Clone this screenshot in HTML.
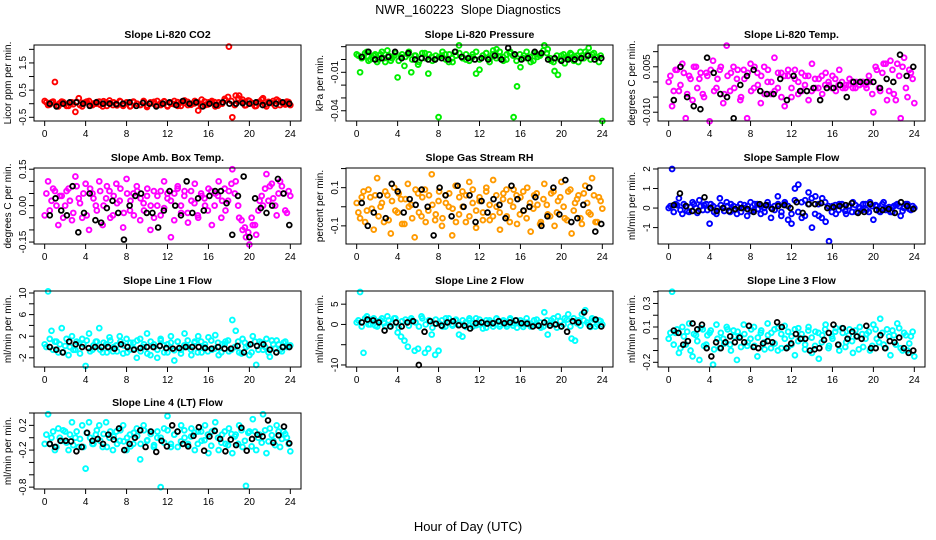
<!DOCTYPE html>
<html><head><meta charset="utf-8"><style>
html,body{margin:0;padding:0;background:#fff;}
svg{display:block;font-family:"Liberation Sans",sans-serif;}
</style></head><body>
<svg id="chart" width="936" height="540" viewBox="0 0 936 540">
<text x="468" y="14" text-anchor="middle" font-size="12.5">NWR_160223&#160; Slope Diagnostics</text>
<text x="468" y="531" text-anchor="middle" font-size="13">Hour of Day (UTC)</text>
</svg>
<script>
const xTicks=[0,4,8,12,16,20,24];
const titles=["Slope Li-820 CO2","Slope Li-820 Pressure","Slope Li-820 Temp.","Slope Amb. Box Temp.","Slope Gas Stream RH","Slope Sample Flow","Slope Line 1 Flow","Slope Line 2 Flow","Slope Line 3 Flow","Slope Line 4 (LT) Flow"];
const yLabels=["Licor ppm per min.","kPa per min.","degrees C per min.","degrees C per min.","percent per min.","ml/min per min.","ml/min per min.","ml/min per min.","ml/min per min.","ml/min per min."];
const colors=["#ff0000","#00ee00","#ff00ff","#ff00ff","#ff9a00","#0000ff","#00ffff","#00ffff","#00ffff","#00ffff"];
const yDomains=[[-0.636,2.16],[-0.048,0.0113],[-0.0129,0.0122],[-0.158,0.155],[-0.195,0.203],[-1.84,2.05],[-3.7,10.37],[-10.5,8.25],[-0.24,0.406],[-0.83,0.4]];
const yTicks=[[-0.5,0,0.5,1,1.5,2],[-0.04,-0.03,-0.02,-0.01,0,0.01],[-0.01,-0.005,0,0.005,0.01],[-0.15,-0.1,-0.05,0,0.05,0.1,0.15],[-0.1,0,0.1,0.2],[-1,0,1,2],[-2,0,2,4,6,8,10],[-10,-5,0,5],[-0.2,-0.1,0,0.1,0.2,0.3,0.4],[-0.8,-0.6,-0.4,-0.2,0,0.2,0.4]];
const yTickLabels=[["-0.5","","0.5","","1.5",""],["-0.04","","","-0.01","",""],["-0.010","","","0.005",""],["-0.15","","","0.00","","","0.15"],["-0.1","","0.1",""],["-1","0","1","2"],["-2","","2","","6","","10"],["-10","","0","5"],["-0.2","","","0.1","","0.3",""],["-0.8","","","-0.2","","0.2",""]];

const c1=[0.1,-0.05,0.05,0.8,-0.1,0.08,0,-0.08,0.05,-0.3,0.2,-0.1,0.05,0.1,-0.05,0,0.08,-0.1,0.05,0.12,-0.05,0,0.1,-0.08,0.05,-0.1,0.08,0,-0.05,0.1,-0.12,0.05,0,0.1,-0.05,0.08,-0.1,0,0.1,-0.08,0.05,0.12,-0.05,0,0.1,-0.25,0.15,-0.05,0.05,0.1,-0.1,0.05,0,0.12,2.1,-0.5,0.3,0.3,0.15,-0.05,0.1,0,-0.08,0.05,0.2,-0.1,0.05,0.1,0.15,-0.05,0,0.08,-0.05];
const d1=[0.05,-0.03,0.08,-0.06,0.02,0.06,-0.08,0.04,-0.02,0.07,-0.05,0.03,0.08,-0.07,0.01,0.06,-0.04,0.09,-0.08,0.02,0.05,-0.06,0.08,-0.02,0.04,-0.09,0.06,0.0,-0.04,0.08,-0.06,0.03,0.07,-0.05,0.02,0.09,-0.07,0.04,-0.02,0.06,-0.08,0.03,0.07,-0.04,0.01,0.05,-0.1,0.08,-0.03,0.04,0.06,-0.07,0.02,0.18,0.25,0.1,-0.05,0.2,0.08,-0.06,0.12,0.03,-0.09,0.06,0.15,-0.04,0.07,0.02,-0.08,0.1,0.04,-0.03,0.06];
const k1=[0,-0.1,0,0.05,0.05,0,-0.08,0.05,0,0,-0.02,0,0.05,-0.08,0.03,0,-0.1,0,0.05,-0.05,0.1,0,0.05,-0.1,0,-0.05,0.05,0,0,0.02,0,0.05,-0.05,0.03,0,0.05,0];
const c2=[0.004,-0.010,0.002,0.006,0.000,0.003,-0.002,0.004,0.001,0.007,-0.001,0.003,-0.014,0.002,-0.005,0.004,-0.010,0.003,-0.004,0.001,0.005,-0.011,0.002,0.000,-0.045,0.003,0.004,-0.002,0.001,0.006,0.011,0.002,0.000,-0.001,0.004,-0.011,-0.008,0.003,0.005,0.001,0.007,0.008,0.002,-0.001,0.004,0.006,-0.045,-0.021,-0.006,0.003,0.001,-0.002,0.005,0.002,0.004,0.011,0.008,-0.001,-0.009,-0.012,0.003,-0.003,0.001,0.004,0.002,-0.002,0.003,0.006,0.009,0.004,0.002,-0.002,-0.048];
const d2=[0.003,0.001,0.005,-0.001,0.002,0.004,0.000,0.006,-0.002,0.003,0.001,0.005,-0.001,0.004,0.002,0.006,0.000,0.003,-0.002,0.005,0.001,0.004,-0.001,0.003,0.002,0.006,0.000,0.004,-0.002,0.003,0.005,0.001,0.004,-0.001,0.002,0.006,0.000,0.003,0.005,-0.002,0.004,0.001,0.006,0.002,0.000,0.005,0.003,-0.001,0.004,0.001,0.006,0.002,-0.001,0.004,0.003,0.007,0.005,0.001,-0.002,0.003,0.000,0.004,0.002,0.005,-0.001,0.003,0.006,0.001,0.004,0.000,0.005,0.002,0.003];
const k2=[0.002,0.006,0.000,0.001,0.002,0.006,0.001,0.005,0.000,0.001,0.000,0.000,0.001,0.000,0.006,0.002,0.001,0.000,0.001,0.000,0.003,0.000,0.009,0.004,0.000,0.001,0.006,0.005,0.000,0.001,-0.001,0.000,0.000,0.001,0.003,0.000,0.001];
const c3=[0.000,-0.008,0.004,-0.003,0.006,-0.012,0.002,-0.006,0.005,0.001,-0.004,0.003,-0.013,0.007,-0.002,0.004,-0.007,0.012,-0.003,0.005,0.001,-0.006,0.004,-0.012,0.006,-0.002,0.003,-0.007,0.005,0.000,-0.004,0.008,-0.002,0.003,-0.008,0.002,-0.005,0.004,0.000,-0.003,0.002,-0.006,0.006,-0.002,0.001,-0.004,0.003,-0.001,0.002,-0.003,0.004,-0.002,-0.001,0.001,-0.002,0.000,-0.001,0.000,-0.002,0.000,-0.010,0.004,-0.003,0.006,-0.006,0.007,-0.004,0.006,-0.012,0.008,-0.005,0.003,-0.007];
const d3=[0.002,-0.003,0.004,-0.001,0.003,-0.004,0.001,0.005,-0.002,0.003,-0.005,0.002,0.004,-0.003,0.001,0.005,-0.004,0.002,0.003,-0.002,0.004,-0.005,0.001,0.003,-0.003,0.005,-0.001,0.002,-0.004,0.004,0.000,-0.003,0.003,-0.005,0.002,0.004,-0.002,0.001,-0.004,0.003,-0.001,0.002,-0.003,0.001,-0.002,0.002,-0.001,0.000,-0.002,0.001,-0.001,0.000,-0.002,-0.001,0.000,-0.002,-0.001,0.000,-0.001,0.002,-0.004,0.005,-0.002,0.003,0.006,-0.003,0.004,-0.006,0.002,0.005,-0.002,0.004,0.001];
const k3=[-0.006,0.005,-0.005,-0.008,-0.009,0.008,0.003,-0.004,-0.005,-0.012,-0.001,0.002,0.004,-0.003,-0.004,-0.004,0.001,-0.006,0.002,-0.003,-0.003,-0.002,-0.006,-0.002,-0.002,-0.001,-0.005,0.000,0.000,0.000,0.000,-0.002,0.001,0.000,0.009,0.002,0.005];
const c4=[-0.04,0.1,0.02,0.06,-0.08,0.04,0.0,0.07,-0.06,0.12,0.03,-0.05,0.09,-0.1,0.05,0.0,0.1,-0.08,0.03,0.06,-0.04,0.09,0.02,-0.09,0.11,-0.02,0.05,0.08,-0.06,0.01,0.04,-0.1,0.06,0.0,-0.04,0.1,0.03,-0.13,0.05,0.08,-0.03,0.06,-0.07,0.02,0.09,-0.05,0.04,0.0,0.07,-0.08,0.05,0.1,0.02,-0.02,0.06,0.15,0.1,-0.05,-0.1,-0.13,-0.16,-0.08,-0.12,0.02,0.0,0.13,0.08,0.03,-0.04,0.1,0.05,-0.03,0.04];
const d4=[0.05,-0.02,0.07,0.0,0.04,-0.05,0.06,0.02,-0.03,0.08,0.01,0.05,-0.04,0.07,0.03,-0.02,0.06,0.0,0.08,-0.05,0.04,0.01,0.07,-0.03,0.05,0.02,-0.04,0.06,0.03,-0.02,0.07,0.0,-0.05,0.04,0.06,-0.01,0.05,0.02,-0.06,0.07,0.0,0.04,-0.03,0.06,0.01,-0.04,0.05,0.03,-0.02,0.06,0.0,0.04,-0.05,0.07,0.02,0.09,0.05,0.0,-0.06,-0.09,-0.11,-0.05,-0.08,-0.02,0.04,0.07,0.02,0.09,0.0,0.05,0.08,-0.02,0.06];
const k4=[-0.04,0.03,-0.02,-0.04,0.08,-0.11,-0.03,0.05,-0.06,-0.07,-0.01,0.02,-0.03,-0.14,0.0,0.04,0.05,-0.03,-0.03,-0.09,-0.02,0.06,0.0,-0.04,0.1,-0.03,0.03,-0.02,0.04,0.06,0.06,0.01,-0.12,0.04,0.12,-0.13,0.03,-0.01,-0.03,0.0,0.11,0.05,-0.08];
const c5=[0.02,-0.06,0.08,-0.02,0.05,-0.12,0.15,0.0,-0.08,0.06,-0.14,0.1,-0.03,0.04,-0.09,0.12,0.01,-0.16,0.07,-0.05,0.09,-0.02,0.17,-0.07,0.03,-0.1,0.06,0.0,-0.15,0.11,-0.04,0.08,-0.08,0.13,0.02,-0.11,0.05,-0.03,0.1,-0.07,0.14,0.0,-0.12,0.07,-0.05,0.03,0.09,-0.09,0.05,-0.02,0.1,-0.13,0.06,0.01,-0.08,0.12,-0.04,0.07,-0.1,0.03,0.13,-0.06,0.08,-0.14,0.02,0.06,-0.09,0.11,-0.03,0.15,-0.08,0.05,-0.01];
const d5=[-0.03,0.05,-0.08,0.09,-0.01,0.06,-0.05,0.02,0.08,-0.07,0.03,-0.02,0.07,-0.09,0.04,0.0,-0.06,0.09,-0.03,0.05,-0.08,0.06,0.01,-0.04,0.08,-0.06,0.02,0.07,-0.01,-0.08,0.05,0.0,0.06,-0.05,0.09,-0.02,0.03,-0.07,0.08,0.01,-0.05,0.06,-0.03,0.04,0.09,-0.08,0.0,0.06,-0.04,0.08,-0.06,0.02,-0.01,0.07,-0.09,0.04,0.01,-0.05,0.08,-0.03,0.05,0.0,-0.07,0.09,-0.02,0.04,-0.06,0.07,0.02,-0.04,0.06,-0.08,0.03];
const k5=[0.02,-0.1,-0.03,0.06,-0.06,0.12,0.08,-0.03,0.04,0.01,0.09,0.0,-0.15,0.1,0.06,-0.05,0.11,0.0,0.06,-0.08,0.03,-0.03,0.04,0.01,-0.06,0.11,0.04,-0.02,0.0,0.05,-0.1,-0.05,0.1,-0.04,0.14,-0.08,-0.06,0.01,0.1,-0.13,-0.09];
const c6=[0.0,2.0,0.2,0.5,-0.3,0.1,-0.2,0.3,0.0,0.4,-0.1,0.2,-0.8,0.1,-0.3,0.5,0.0,0.3,-0.2,0.1,-0.3,0.2,0.0,-0.4,0.3,-0.1,0.2,-0.3,0.0,0.3,-0.5,0.1,0.6,-0.4,0.2,-0.6,-0.8,1.0,1.2,-0.5,0.4,0.8,-1.0,0.6,-0.4,0.5,-0.7,-1.7,0.1,-0.3,0.2,0.0,-0.3,0.1,0.3,-0.2,0.0,0.2,-0.1,0.3,-0.6,0.1,-0.2,0.3,0.0,-0.2,0.1,0.2,-0.4,0.0,0.2,-0.1,0.0];
const d6=[0.1,-0.2,0.15,-0.1,0.2,-0.15,0.05,0.2,-0.25,0.1,0.15,-0.1,0.2,-0.2,0.0,0.15,-0.15,0.1,0.2,-0.1,0.05,-0.2,0.15,0.1,-0.15,0.2,-0.05,0.1,-0.2,0.15,0.0,-0.1,0.2,-0.2,0.3,0.1,-0.3,0.4,-0.2,0.3,-0.4,0.2,0.5,-0.3,0.2,-0.5,0.3,0.1,-0.2,0.15,-0.1,0.2,-0.15,0.1,-0.2,0.15,0.05,-0.1,0.2,-0.2,0.1,0.15,-0.15,0.2,-0.1,0.05,-0.2,0.15,0.1,-0.15,0.2,-0.05,0.1];
const k6=[0.15,0.75,0.1,-0.15,-0.15,0.55,0.0,-0.15,0.0,-0.15,-0.05,0.0,-0.05,-0.2,0.2,0.15,-0.05,0.1,0.15,0.0,0.3,-0.25,0.2,0.2,0.25,0.0,0.05,0.1,0.15,0.25,-0.25,-0.2,0.2,-0.1,-0.1,-0.05,-0.25,0.3,0.1,-0.05];
const c7=[0.5,10.3,3.0,1.0,-1.0,3.5,0.2,-1.5,2.0,-0.5,0.8,1.5,-3.5,2.5,-0.5,1.0,3.5,-1.0,0.5,1.8,-0.8,0.3,2.0,-1.2,1.5,-0.5,0.8,-2.0,1.5,0.0,2.5,-1.5,0.5,-2.0,1.5,0.3,-1.0,2.0,-2.5,1.0,-0.5,2.5,0.0,-1.5,1.0,2.0,-1.0,0.5,1.8,-0.5,2.2,-1.5,0.5,1.0,-0.8,5.0,3.0,-1.0,1.5,0.0,-1.5,2.0,-3.3,1.0,-0.5,1.5,-1.8,0.5,1.2,-0.5,0.8,0.0,0.3];
const d7=[0.0,1.5,-0.5,1.0,0.5,-1.0,1.5,0.0,-0.5,1.0,-1.2,0.5,1.2,-0.8,0.3,1.0,-0.5,0.8,-1.0,1.2,0.0,-0.8,1.0,0.3,-1.0,0.8,-0.3,1.2,-0.8,0.5,-1.2,1.0,0.0,-0.5,1.2,-1.0,0.5,0.8,-0.6,1.0,-1.2,0.3,1.2,-0.5,0.8,-1.0,1.0,0.0,-0.8,1.2,-0.3,0.8,-1.0,0.5,1.2,-0.5,0.0,1.0,-1.2,0.8,0.3,-1.0,1.0,-0.5,0.8,0.0,-1.0,1.2,-0.3,0.5,-0.8,1.0,0.2];
const k7=[0.0,-0.5,-1.0,1.0,0.5,0.0,-0.2,0.0,0.0,0.0,-0.3,0.5,0.0,-0.5,-0.2,0.0,0.0,0.2,-0.2,-0.3,-0.2,0.0,0.0,0.0,-0.2,-0.3,0.0,-0.3,-0.3,0.2,-1.0,0.5,0.2,0.5,-0.5,-1.0,0.0,0.0];
const c8=[0.5,8.0,-7.0,2.0,0.0,1.5,-0.5,1.0,0.3,2.0,-0.5,1.5,-2.0,-3.0,-4.0,-5.5,1.5,-6.5,-6.0,2.0,-7.0,-6.0,-2.5,-7.5,-6.5,1.0,-0.5,1.5,0.0,1.0,-2.5,-3.0,0.5,1.0,-0.5,1.5,0.0,-1.0,1.0,0.5,-0.5,1.5,0.0,1.0,-0.5,1.5,0.3,-0.8,1.0,0.0,0.5,-0.5,1.0,0.0,-0.8,3.0,-2.5,1.0,0.0,2.0,-0.5,1.5,2.5,-3.5,-4.0,1.0,2.5,3.5,0.0,1.5,-0.5,1.0,0.0];
const d8=[1.0,-0.5,1.5,0.0,1.2,-0.3,0.8,1.5,-0.5,1.0,0.2,1.5,-0.8,0.8,1.2,-0.3,1.0,0.5,-0.5,1.5,0.0,1.0,-0.8,1.2,0.3,-0.5,1.5,0.5,-0.3,1.2,0.0,1.0,-0.6,1.5,0.3,-0.2,1.2,0.5,-0.8,1.0,0.2,1.4,-0.5,0.8,0.0,1.2,-0.3,1.0,0.5,-0.6,1.5,0.2,-0.4,1.2,0.5,-0.5,1.0,0.3,1.5,-0.8,0.8,0.0,1.2,-0.5,1.5,0.3,-0.3,1.0,0.5,-0.6,1.2,0.0,0.8];
const k8=[0.5,1.2,1.0,0.5,-1.5,-0.5,0.5,-0.5,0.5,0.8,-10.0,-1.8,0.8,0.2,-0.3,0.5,0.8,-0.2,-0.3,-1.0,0.3,0.5,0.2,0.3,0.8,0.3,0.5,1.0,0.3,0.2,-0.5,-0.3,0.5,-0.3,0.0,-0.5,-1.8,0.8,0.5,3.0,-0.5,1.2,-0.5];
const c9=[0.0,0.4,0.05,-0.12,0.1,-0.05,0.13,-0.15,0.03,-0.18,0.08,-0.05,0.05,-0.22,0.12,-0.08,0.0,0.1,-0.05,0.07,-0.18,0.02,0.12,-0.06,0.0,0.1,-0.15,0.05,-0.03,0.13,-0.08,0.08,-0.1,0.04,0.11,-0.07,0.02,-0.14,0.09,0.0,-0.05,0.1,-0.12,0.06,-0.17,0.03,0.12,-0.06,0.0,0.09,-0.1,0.05,-0.03,0.08,-0.12,0.02,0.1,-0.07,0.04,-0.1,0.12,0.0,0.17,-0.05,0.08,-0.14,0.03,0.13,-0.08,0.05,-0.1,0.02,-0.15];
const d9=[0.05,-0.05,0.08,-0.08,0.02,0.06,-0.1,0.04,-0.02,0.09,-0.06,0.03,0.07,-0.09,0.0,0.05,-0.04,0.08,-0.1,0.02,0.06,-0.07,0.04,-0.03,0.08,-0.06,0.01,0.07,-0.09,0.03,0.05,-0.04,0.09,-0.08,0.0,0.06,-0.05,0.08,-0.02,0.04,-0.09,0.07,0.01,-0.06,0.05,-0.03,0.08,-0.08,0.02,0.06,-0.05,0.09,-0.07,0.03,-0.02,0.07,-0.09,0.04,0.0,0.06,-0.06,0.08,-0.03,0.05,-0.08,0.02,0.07,-0.05,0.09,-0.1,0.03,-0.04,0.06];
const k9=[0.07,0.05,-0.05,-0.02,0.13,0.08,0.12,-0.08,-0.15,-0.03,-0.08,-0.03,0.02,-0.03,0.01,-0.03,0.11,-0.07,-0.08,-0.04,-0.02,-0.03,0.14,0.1,-0.08,-0.04,0.04,0.0,0.0,-0.1,-0.09,-0.08,-0.01,0.05,0.12,-0.05,0.09,0.0,0.06,0.02,0.0,0.11,-0.08,-0.08,0.03,-0.08,-0.02,-0.03,0.01,-0.08,-0.12,-0.1];
const c10=[-0.1,0.38,0.0,-0.2,0.15,-0.05,0.1,-0.2,0.25,0.0,-0.15,0.2,-0.5,0.25,-0.1,0.05,0.2,-0.15,0.25,0.0,-0.2,0.1,-0.05,0.2,-0.2,0.05,-0.1,0.15,-0.35,0.2,-0.05,0.1,-0.15,0.0,-0.8,0.15,0.35,-0.1,0.05,-0.15,0.2,0.0,-0.1,0.15,-0.2,0.1,-0.05,0.2,-0.25,0.1,0.25,-0.2,0.05,-0.1,0.15,-0.25,0.05,0.2,-0.15,-0.78,0.1,0.3,-0.2,0.05,0.38,-0.25,0.15,-0.05,0.2,-0.15,0.1,0.0,-0.22];
const d10=[0.05,-0.1,0.1,-0.15,0.0,0.12,-0.08,0.05,-0.12,0.1,-0.02,-0.15,0.08,0.0,-0.1,0.12,-0.05,0.06,-0.15,0.1,0.02,-0.1,0.12,-0.06,0.0,-0.14,0.08,0.03,-0.1,0.12,-0.04,0.06,-0.12,0.1,0.0,-0.08,0.12,-0.15,0.05,0.1,-0.06,0.12,-0.12,0.02,0.08,-0.1,0.1,-0.04,0.05,-0.13,0.12,0.0,-0.08,0.1,-0.12,0.06,0.02,-0.1,0.12,-0.05,0.08,-0.14,0.1,0.0,-0.08,0.12,-0.06,0.04,-0.12,0.1,-0.02,0.06,-0.1];
const k10=[-0.1,-0.15,-0.05,-0.05,-0.06,-0.22,-0.15,0.08,-0.05,-0.02,-0.1,0.05,-0.03,0.15,-0.2,-0.1,0.0,0.12,-0.15,0.1,-0.23,-0.05,-0.14,0.2,0.1,-0.1,-0.14,0.03,0.17,-0.21,0.02,0.11,-0.02,-0.22,-0.03,-0.12,0.16,-0.21,-0.02,0.05,0.02,0.28,-0.08,0.04,0.18,-0.09];
const coloredSeries=[c1,c2,c3,c4,c5,c6,c7,c8,c9,c10];
const coreSeries=[d1,d2,d3,d4,d5,d6,d7,d8,d9,d10];
const blackSeries=[k1,k2,k3,k4,k5,k6,k7,k8,k9,k10];

const NS="http://www.w3.org/2000/svg";
const svg=document.getElementById('chart');
const colX=[34,346,658], rowY=[45,168,291,413], W=267, H=76;
function mk(tag,attrs,parent){const e=document.createElementNS(NS,tag);for(const k in attrs)e.setAttribute(k,attrs[k]);parent.appendChild(e);return e;}
for(let p=0;p<10;p++){
  const L=colX[p%3], T=rowY[Math.floor(p/3)];
  const g=mk('g',{},svg);
  
  
  const xs=v=>L+W*0.04+(v/24)*W*0.92;
  const [y0,y1]=yDomains[p];
  const ys=v=>T+H-(v-y0)/(y1-y0)*H;
  const t=mk('text',{x:L+W/2,y:T-7,'text-anchor':'middle','font-size':'10.5','font-weight':'bold'},g);
  t.textContent=titles[p];
  
  
  const yl=mk('text',{x:0,y:0,'text-anchor':'middle','font-size':'10',transform:`translate(${L-23},${T+H/2}) rotate(-90)`},g);
  yl.textContent=yLabels[p];
  
  
  const cs=coloredSeries[p], ds=coreSeries[p], ks=blackSeries[p];
  cs.forEach((v,i)=>{const c=mk('circle',{cx:xs(24*i/(cs.length-1)),cy:ys(v),r:2.4,fill:'none',stroke:colors[p],'stroke-width':1.9},g);
    
    });
  ds.forEach((v,i)=>{const c=mk('circle',{cx:xs(24*(i+0.5)/ds.length),cy:ys(v),r:2.4,fill:'none',stroke:colors[p],'stroke-width':1.9},g);
    
    });
  ks.forEach((v,i)=>{const c=mk('circle',{cx:xs(0.5+23.4*i/(ks.length-1)),cy:ys(v),r:2.4,fill:'none',stroke:'#000','stroke-width':1.8},g);
    
    });
  const box=mk('rect',{x:L,y:T,width:W,height:H,fill:'none',stroke:'#000','stroke-width':1},g);
  
  
  mk('line',{x1:xs(0),x2:xs(24),y1:T+H,y2:T+H,stroke:'#000'},g);
  xTicks.forEach(v=>{mk('line',{x1:xs(v),x2:xs(v),y1:T+H,y2:T+H+5,stroke:'#000'},g);
    const tl=mk('text',{x:xs(v),y:T+H+16,'text-anchor':'middle','font-size':'10'},g);tl.textContent=v;
    
    });
  yTicks[p].forEach((v,i)=>{const y=ys(v);mk('line',{x1:L-5,x2:L,y1:y,y2:y,stroke:'#000'},g);
    const lab=yTickLabels[p][i];
    if(lab){const tl=mk('text',{x:0,y:0,'text-anchor':'middle','font-size':'10',transform:`translate(${L-8},${y}) rotate(-90)`},g);tl.textContent=lab;
      
      }});
}
</script>
</body></html>
